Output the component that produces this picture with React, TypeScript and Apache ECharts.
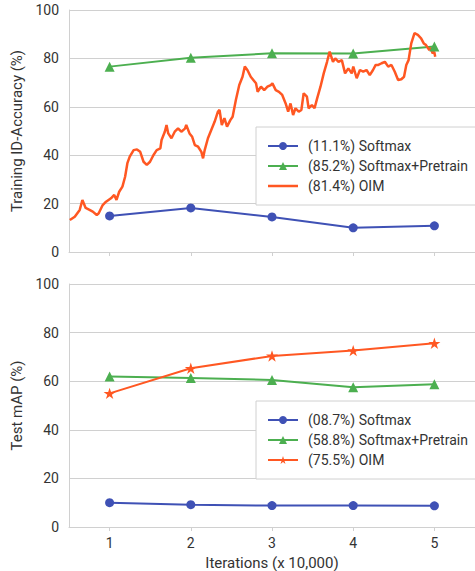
import React, { useEffect, useRef } from "react";
import * as echarts from "echarts";

// x positions (iterations, x 10,000)
const iterations = [1, 2, 3, 4, 5];
const tickValues = [1, 2, 3, 4, 5];

// Training ID-Accuracy (%)
const trainSoftmax = [14.9, 18.2, 14.5, 10.0, 10.8];
const trainPretrain = [76.6, 80.3, 82.1, 82.0, 84.9];

// OIM training curve
const oimIter = [
  0.51, 0.571, 0.632, 0.665, 0.705, 0.753, 0.793, 0.842, 0.866, 0.915, 0.956, 1.017, 1.057, 1.085, 1.118,
  1.158, 1.191, 1.219, 1.248, 1.296, 1.337, 1.377, 1.418, 1.458, 1.498, 1.539, 1.58, 1.625, 1.64, 1.68,
  1.701, 1.722, 1.762, 1.802, 1.843, 1.883, 1.928, 1.944, 1.984, 2.017, 2.05, 2.09, 2.13, 2.151, 2.171,
  2.211, 2.252, 2.293, 2.333, 2.354, 2.382, 2.414, 2.446, 2.487, 2.515, 2.555, 2.597, 2.637, 2.665, 2.697,
  2.738, 2.77, 2.803, 2.823, 2.864, 2.904, 2.944, 2.985, 3.005, 3.046, 3.086, 3.126, 3.168, 3.199, 3.228,
  3.26, 3.289, 3.329, 3.362, 3.39, 3.43, 3.451, 3.491, 3.524, 3.556, 3.597, 3.637, 3.678, 3.71, 3.751,
  3.779, 3.819, 3.86, 3.9, 3.94, 3.982, 4.001, 4.043, 4.083, 4.123, 4.164, 4.204, 4.244, 4.277, 4.31,
  4.35, 4.39, 4.431, 4.471, 4.512, 4.553, 4.593, 4.626, 4.654, 4.682, 4.715, 4.755, 4.796, 4.836, 4.869,
  4.897, 4.937, 4.957, 4.978, 4.998, 5.01,
];
const oimAcc = [
  13.2, 14.6, 17.4, 21.5, 18.2, 17.4, 16.7, 15.3, 16.0, 19.4, 20.8, 22.2, 23.6, 21.5, 24.9,
  27.0, 31.1, 36.7, 39.4, 42.1, 42.4, 41.4, 37.3, 36.0, 37.3, 40.0, 42.1, 42.8, 46.3, 49.7,
  52.5, 49.0, 47.0, 49.7, 51.1, 49.7, 51.0, 52.5, 49.0, 47.6, 44.2, 43.5, 41.4, 38.7, 42.1,
  47.0, 50.4, 53.8, 57.9, 58.7, 52.5, 55.3, 51.8, 54.5, 55.9, 62.8, 69.0, 72.4, 76.6, 75.2,
  72.4, 71.1, 69.7, 66.2, 68.3, 66.9, 68.3, 69.0, 69.7, 66.9, 66.2, 64.9, 61.4, 58.0, 61.4,
  56.6, 59.4, 58.0, 58.7, 65.6, 64.2, 59.4, 60.7, 59.4, 63.5, 68.3, 73.8, 78.6, 82.8, 78.6,
  80.0, 78.6, 79.3, 73.8, 75.9, 73.8, 76.6, 71.8, 75.2, 74.5, 75.2, 73.1, 75.2, 77.3, 77.3,
  78.0, 78.6, 76.6, 77.3, 74.5, 71.1, 71.4, 72.4, 77.3, 79.3, 86.2, 90.4, 89.7, 88.3, 86.2,
  85.5, 83.5, 84.2, 82.1, 82.8, 80.7,
];

// Test mAP (%)
const testSoftmax = [10.0, 9.2, 8.8, 8.8, 8.7];
const testPretrain = [61.9, 61.3, 60.5, 57.5, 58.7];
const testOim = [55.0, 65.3, 70.4, 72.6, 75.6];

const trainNames = ["(11.1%) Softmax", "(85.2%) Softmax+Pretrain", "(81.4%) OIM"];
const testNames = ["(08.7%) Softmax", "(58.8%) Softmax+Pretrain", "(75.5%) OIM"];

const BLUE = "#3f51b5";
const GREEN = "#4caf50";
const ORANGE = "#ff5722";
const GRID = "#d0d0d0";
const TEXT = "#333333";
const FONT = "Roboto";

const STAR =
  "path://M50,0 L61.23,34.55 L97.55,34.55 L68.17,55.9 L79.39,90.45 L50,69.1 L20.61,90.45 L31.83,55.9 L2.45,34.55 L38.77,34.55 Z";
const LINE_ICON = "path://M0,0 L60,0 L60,5 L0,5 Z";

const pairs = (xs: number[], ys: number[]) => xs.map((x, i) => [x, ys[i]]);

export default function App() {
  const ref = useRef<HTMLDivElement>(null);
  useEffect(() => {
    document.body.style.margin = "0";
    const chart = echarts.init(ref.current!, null, { renderer: "svg" });
    const xAxisBase = (gridIndex: number) => ({
      type: "value",
      gridIndex,
      min: 0.5,
      max: 5.5,
      axisLine: { show: true, lineStyle: { color: GRID, width: 1 } },
      axisTick: { show: true, customValues: tickValues, length: 4, lineStyle: { color: GRID } },
      splitLine: { show: false },
    });
    const yAxisBase = (gridIndex: number, name: string) => ({
      type: "value",
      gridIndex,
      min: 0,
      max: 100,
      interval: 20,
      name,
      nameLocation: "middle",
      nameGap: 37,
      nameTextStyle: { fontSize: 15, color: TEXT, fontFamily: FONT },
      axisLine: { show: true, lineStyle: { color: GRID, width: 1 } },
      axisTick: { show: false },
      axisLabel: { fontSize: 14, color: TEXT, fontFamily: FONT, margin: 10 },
      splitLine: { show: true, lineStyle: { color: GRID, width: 1 } },
    });
    const legendBase = (top: number, data: any[]) => ({
      left: 256,
      top,
      orient: "vertical",
      itemWidth: 30,
      itemHeight: 10,
      itemGap: 4,
      padding: [11, 11, 11, 11],
      backgroundColor: "#ffffff",
      borderColor: GRID,
      borderWidth: 1,
      symbolKeepAspect: true,
      textStyle: { fontSize: 14, color: TEXT, fontFamily: FONT, lineHeight: 16, padding: [0, 0, 0, 5] },
      data,
    });
    chart.setOption({
      animation: false,
      textStyle: { fontFamily: FONT },
      grid: [
        { left: 69, top: 10, right: -6, height: 242 },
        { left: 69, top: 284, right: -6, height: 243 },
      ],
      xAxis: [
        { ...xAxisBase(0), axisLabel: { show: false } },
        {
          ...xAxisBase(1),
          name: "Iterations (x 10,000)",
          nameLocation: "middle",
          nameGap: 28,
          nameTextStyle: { fontSize: 15, color: TEXT, fontFamily: FONT },
          axisLabel: { customValues: tickValues, fontSize: 14, color: TEXT, fontFamily: FONT, margin: 9 },
        },
      ],
      yAxis: [yAxisBase(0, "Training ID-Accuracy (%)"), yAxisBase(1, "Test mAP (%)")],
      legend: [
        legendBase(127, [trainNames[0], trainNames[1], { name: trainNames[2], icon: LINE_ICON }]),
        legendBase(401, testNames),
      ],
      series: [
        {
          name: trainNames[0],
          type: "line",
          xAxisIndex: 0,
          yAxisIndex: 0,
          data: pairs(iterations, trainSoftmax),
          color: BLUE,
          symbol: "circle",
          symbolSize: 9,
          lineStyle: { width: 2 },
        },
        {
          name: trainNames[1],
          type: "line",
          xAxisIndex: 0,
          yAxisIndex: 0,
          data: pairs(iterations, trainPretrain),
          color: GREEN,
          symbol: "triangle",
          symbolSize: 10,
          lineStyle: { width: 2 },
        },
        {
          name: trainNames[2],
          type: "line",
          xAxisIndex: 0,
          yAxisIndex: 0,
          data: pairs(oimIter, oimAcc),
          color: ORANGE,
          symbol: "none",
          lineStyle: { width: 2.5 },
        },
        {
          name: testNames[0],
          type: "line",
          xAxisIndex: 1,
          yAxisIndex: 1,
          data: pairs(iterations, testSoftmax),
          color: BLUE,
          symbol: "circle",
          symbolSize: 9,
          lineStyle: { width: 2 },
        },
        {
          name: testNames[1],
          type: "line",
          xAxisIndex: 1,
          yAxisIndex: 1,
          data: pairs(iterations, testPretrain),
          color: GREEN,
          symbol: "triangle",
          symbolSize: 10,
          lineStyle: { width: 2 },
        },
        {
          name: testNames[2],
          type: "line",
          xAxisIndex: 1,
          yAxisIndex: 1,
          data: pairs(iterations, testOim),
          color: ORANGE,
          symbol: STAR,
          symbolKeepAspect: true,
          symbolSize: 12,
          lineStyle: { width: 2 },
        },
      ],
    });
    return () => chart.dispose();
  }, []);
  return <div ref={ref} style={{ width: 475, height: 571 }} />;
}
